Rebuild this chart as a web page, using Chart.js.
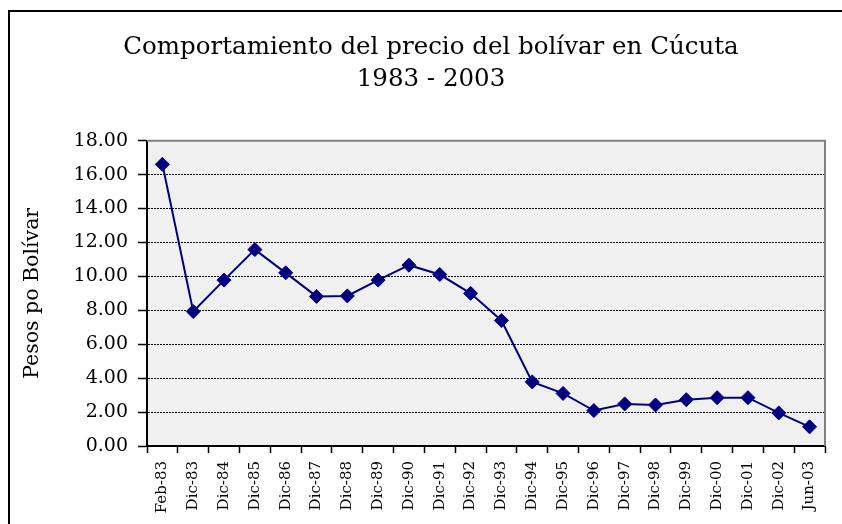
<!DOCTYPE html>
<html lang="es">
<head>
<meta charset="utf-8">
<title>Comportamiento del precio del bolívar en Cúcuta 1983 - 2003</title>
<script src="https://cdn.jsdelivr.net/npm/chart.js@4/dist/chart.umd.min.js"></script>
<style>
  html, body { margin: 0; padding: 0; background: #ffffff; }
  #wrap { position: relative; width: 842px; height: 524px; }
  canvas { display: block; }
</style>
</head>
<body>
<div id="wrap"><canvas id="grafico" width="842" height="524"></canvas></div>
<script>
// Fechas de corte de la serie
const categories = [
  'Feb-83', 'Dic-83', 'Dic-84', 'Dic-85', 'Dic-86', 'Dic-87', 'Dic-88',
  'Dic-89', 'Dic-90', 'Dic-91', 'Dic-92', 'Dic-93', 'Dic-94', 'Dic-95',
  'Dic-96', 'Dic-97', 'Dic-98', 'Dic-99', 'Dic-00', 'Dic-01', 'Dic-02', 'Jun-03'
];

// Pesos colombianos por bolívar en Cúcuta
const precioBolivar = [
  16.61, 7.93, 9.78, 11.58, 10.21, 8.82, 8.85,
  9.78, 10.66, 10.11, 9.00, 7.40, 3.78, 3.10,
  2.09, 2.48, 2.42, 2.73, 2.85, 2.85, 1.95, 1.13
];

// Eje de valores
const yMin = 0;
const yMax = 18;
const yStep = 2;

const titleLines = ['Comportamiento del precio del bolívar en Cúcuta', '1983 - 2003'];
const yAxisTitle = 'Pesos po Bolívar';

const SERIF = "'DejaVu Serif', 'Liberation Serif', serif";

// Marco exterior, fondo gris del área de trazado y su borde
const chartFrame = {
  id: 'chartFrame',
  beforeDraw(chart) {
    const { ctx, chartArea: a } = chart;
    ctx.save();
    ctx.fillStyle = '#ffffff';
    ctx.fillRect(0, 0, chart.width, chart.height);
    ctx.fillStyle = '#000000';
    ctx.fillRect(8, 10, chart.width - 8, 2);
    ctx.fillRect(8, 10, 2, chart.height - 10);
    ctx.fillStyle = '#f0f0f0';
    ctx.fillRect(a.left, a.top, a.right - a.left, a.bottom - a.top);
    ctx.restore();
  },
  beforeDatasetsDraw(chart) {
    const { ctx, chartArea: a } = chart;
    ctx.save();
    ctx.strokeStyle = '#808080';
    ctx.lineWidth = 2;
    ctx.beginPath();
    ctx.moveTo(a.left, a.top);
    ctx.lineTo(a.right, a.top);
    ctx.lineTo(a.right, a.bottom);
    ctx.stroke();
    ctx.restore();
  }
};

new Chart(document.getElementById('grafico'), {
  type: 'line',
  data: {
    labels: categories,
    datasets: [{
      data: precioBolivar,
      borderColor: '#000080',
      backgroundColor: '#000080',
      borderWidth: 2,
      tension: 0,
      fill: false,
      pointStyle: 'rectRot',
      pointRadius: 7,
      pointHoverRadius: 7,
      pointBorderWidth: 1,
      pointBorderColor: '#000080',
      pointBackgroundColor: '#000080'
    }]
  },
  options: {
    responsive: false,
    animation: false,
    devicePixelRatio: 1,
    events: [],
    layout: { padding: { left: 20, right: 0, top: 0, bottom: 0 } },
    plugins: {
      legend: { display: false },
      tooltip: { enabled: false },
      title: {
        display: true,
        text: titleLines,
        color: '#000000',
        font: { family: SERIF, size: 24.5, weight: 'normal', lineHeight: 1.3 },
        padding: { top: 32, bottom: 45 }
      }
    },
    scales: {
      x: {
        type: 'category',
        offset: true,
        grid: {
          offset: true,
          drawOnChartArea: false,
          drawTicks: true,
          tickLength: 7,
          tickWidth: 1.5,
          tickColor: '#000000',
          tickBorderDash: []
        },
        border: { display: true, color: '#000000', width: 2 },
        ticks: {
          autoSkip: false,
          maxRotation: 90,
          minRotation: 90,
          padding: 8,
          color: '#000000',
          font: { family: SERIF, size: 15 }
        },
        afterFit(scale) { scale.height = 78; }
      },
      y: {
        min: yMin,
        max: yMax,
        grid: {
          color: '#000000',
          lineWidth: 1,
          drawTicks: true,
          tickLength: 9,
          tickWidth: 1.5,
          tickColor: '#000000',
          tickBorderDash: []
        },
        border: { display: true, color: '#000000', width: 2, dash: [2, 1] },
        ticks: {
          stepSize: yStep,
          padding: 10,
          color: '#000000',
          font: { family: SERIF, size: 19 },
          callback: (v) => Number(v).toFixed(2)
        },
        title: {
          display: true,
          text: yAxisTitle,
          color: '#000000',
          font: { family: SERIF, size: 20.5 },
          padding: { top: 0, bottom: 0 }
        },
        afterFit(scale) { scale.width = 127; }
      },
      // columna vacía a la derecha del área de trazado
      margen: {
        type: 'linear',
        position: 'right',
        display: true,
        grid: { display: false },
        border: { display: false },
        ticks: { display: false },
        afterFit(scale) { scale.width = 17; }
      }
    }
  },
  plugins: [chartFrame]
});
</script>
</body>
</html>
